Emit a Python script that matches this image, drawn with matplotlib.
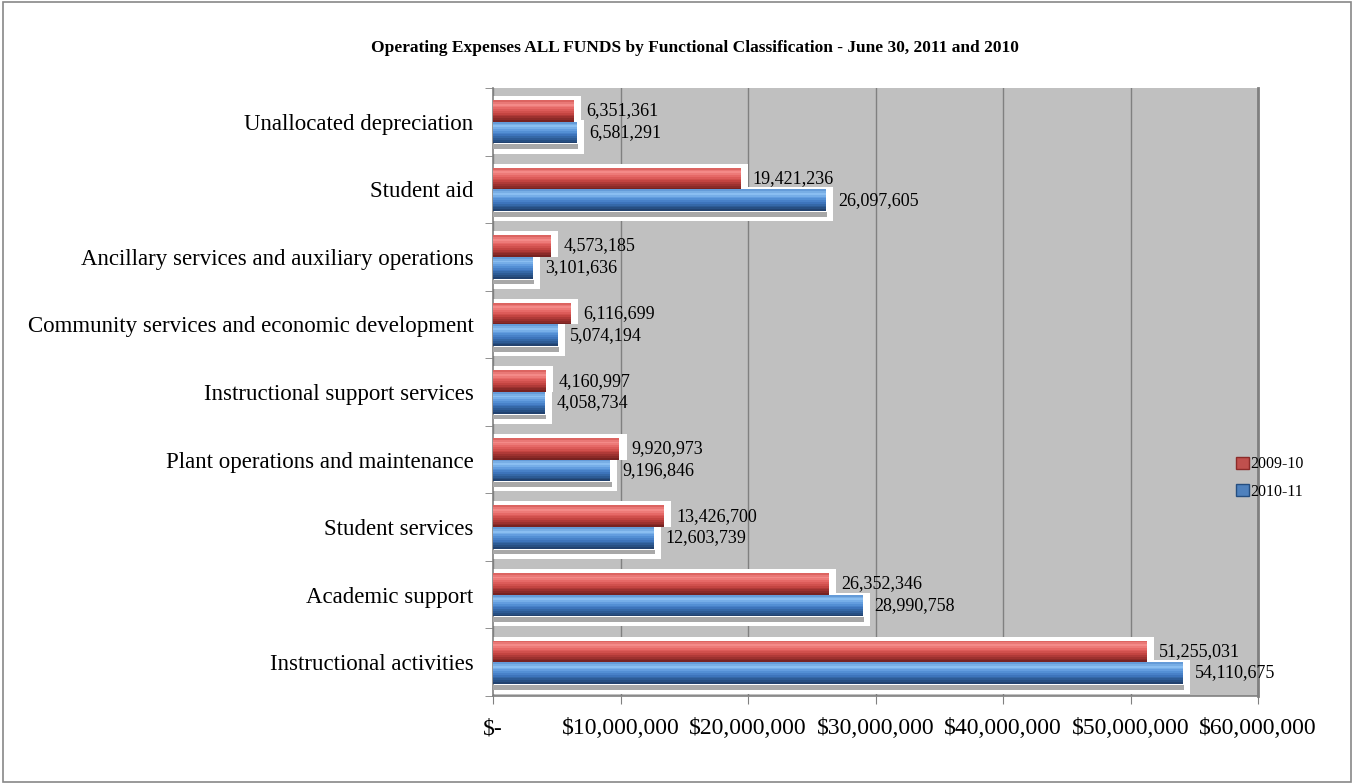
import matplotlib.pyplot as plt
import numpy as np
from matplotlib.patches import Rectangle
from matplotlib.colors import LinearSegmentedColormap
from matplotlib.ticker import FuncFormatter

plt.rcParams['font.family'] = ['Liberation Serif', 'DejaVu Serif']

# categories listed bottom to top
categories = [
    'Instructional activities',
    'Academic support',
    'Student services',
    'Plant operations and maintenance',
    'Instructional support services',
    'Community services and economic development',
    'Ancillary services and auxiliary operations',
    'Student aid',
    'Unallocated depreciation',
]
fy_2009_10 = [51255031, 26352346, 13426700, 9920973, 4160997, 6116699, 4573185, 19421236, 6351361]
fy_2010_11 = [54110675, 28990758, 12603739, 9196846, 4058734, 5074194, 3101636, 26097605, 6581291]
x_ticks = [0, 10000000, 20000000, 30000000, 40000000, 50000000, 60000000]

title = 'Operating Expenses ALL FUNDS by Functional Classification - June 30, 2011 and 2010'

red = '#C0504D'
blue = '#4F81BD'
# shading from bottom edge to top edge of a bar
red_shade = LinearSegmentedColormap.from_list('r', ['#6E1F1E', '#9A302E', '#C84744', '#E46462', '#F58C8A', '#D65A57'])
blue_shade = LinearSegmentedColormap.from_list('b', ['#1F3C66', '#2C5A93', '#3F78C0', '#5C98DC', '#8CC0F2', '#5A92D2'])

fig = plt.figure(figsize=(13.54, 7.84), dpi=100)
ax = fig.add_axes([493 / 1354, 1 - 696 / 784, (1258 - 493) / 1354, (696 - 88) / 784])
ax.set_facecolor('#C0C0C0')

y = np.arange(len(categories))
h = 0.32
pad_x = 550000
v_red = np.array(fy_2009_10)
v_blue = np.array(fy_2010_11)

# white backdrops behind the bars
ax.barh(y + h / 2 + 0.03, v_red + pad_x, height=h + 0.06, color='white', zorder=2)
ax.barh(y - h / 2 - 0.06, v_blue + pad_x, height=h + 0.18, color='white', zorder=2)
# soft shadow strip under the lower bar
ax.barh(y - h - 0.05, v_blue + 100000, height=0.07, color='#A8A8A8', zorder=3)

# bars drawn as stacked thin strips to fake the gradient
n_strips = 12
for vals, yc, cmap in [(v_red, y + h / 2, red_shade), (v_blue, y - h / 2, blue_shade)]:
    for k in range(n_strips):
        f = (k + 0.5) / n_strips
        ax.barh(yc - h / 2 + f * h, vals, height=h / n_strips * 1.05,
                color=cmap(f), zorder=4, linewidth=0)

for yi, v in zip(y, v_red):
    ax.text(v + 950000, yi + h / 2, f'{v:,}', va='center', ha='left', fontsize=13, zorder=5)
for yi, v in zip(y, v_blue):
    ax.text(v + 950000, yi - h / 2, f'{v:,}', va='center', ha='left', fontsize=13, zorder=5)

ax.set_xlim(0, 60000000)
ax.set_ylim(-0.5, len(categories) - 0.5)
ax.set_xticks(x_ticks)
ax.xaxis.set_major_formatter(FuncFormatter(lambda v, p: '$-' if v == 0 else f'${v:,.0f}'))
ax.set_yticks(y)
ax.set_yticklabels(categories)
ax.set_yticks(np.arange(len(categories) + 1) - 0.5, minor=True)
ax.tick_params(axis='y', which='major', length=0, pad=14, labelsize=16.5)
ax.tick_params(axis='y', which='minor', length=6, color='#808080')
ax.tick_params(axis='x', length=6, color='#808080', pad=10, labelsize=17)

ax.grid(axis='x', color='#808080', linewidth=1)
ax.set_axisbelow(True)
ax.spines['top'].set_visible(False)
ax.spines['right'].set_color('#808080')
ax.spines['right'].set_linewidth(2)
ax.spines['left'].set_color('#808080')
ax.spines['bottom'].set_color('#808080')
ax.spines['left'].set_linewidth(1.2)
ax.spines['bottom'].set_linewidth(1.2)

handles = [Rectangle((0, 0), 1, 1, facecolor=red, edgecolor='#8C2B29'),
           Rectangle((0, 0), 1, 1, facecolor=blue, edgecolor='#254E80')]
fig.legend(handles, ['2009-10', '2010-11'], loc='center left',
           bbox_to_anchor=(1236 / 1354, 1 - 478 / 784), frameon=False,
           fontsize=11.5, handlelength=0.8, handleheight=0.8, handletextpad=0.1,
           labelspacing=0.7, borderaxespad=0, borderpad=0)

fig.text(695 / 1354, 1 - 48 / 784, title, ha='center', va='center', fontsize=12.5, fontweight='bold')

fig.patches.append(Rectangle((0.002, 0.003), 0.996, 0.994, transform=fig.transFigure,
                             fill=False, edgecolor='#888888', linewidth=1.2))

plt.savefig('out.png', dpi=100)
plt.close()
